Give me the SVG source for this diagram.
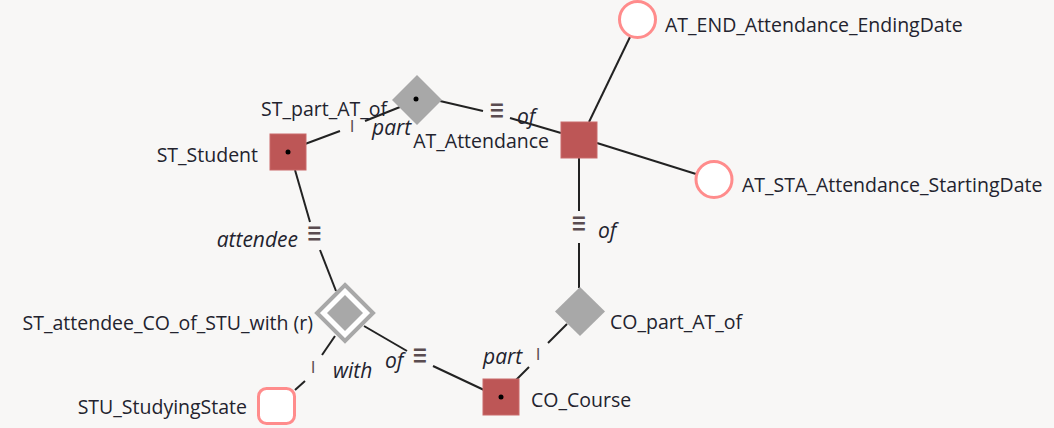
<svg xmlns="http://www.w3.org/2000/svg" width="1054" height="428" viewBox="0 0 1054 428">
<style>
.t{font-family:"Open Sans","Noto Sans",sans-serif;font-size:19.5px;fill:#23232e}
.i{font-family:"Open Sans","Noto Sans",sans-serif;font-size:21px;font-style:italic;fill:#23232e}
.m{font-family:"Open Sans","Noto Sans",sans-serif;font-size:17px;fill:#5a4c50}
.q{font-family:"DejaVu Sans",sans-serif;font-size:19px;fill:#5a4c50}
.e{fill:#bd5656;stroke:#c96a6a;stroke-width:1}
.d{fill:#a8a8a8}
.v{fill:#fff;stroke:#ff8c8c;stroke-width:3}
.c line{stroke:#222;stroke-width:2}
</style>
<rect width="1054" height="428" fill="#f8f7f6"/>
<g class="c" id="connectors">
<line x1="305" y1="144" x2="340" y2="131"/>
<line x1="365" y1="121" x2="400" y2="107"/>
<line x1="440" y1="101" x2="483" y2="111"/>
<line x1="510" y1="118" x2="561" y2="133"/>
<line x1="589" y1="122" x2="630" y2="37"/>
<line x1="597" y1="143" x2="696" y2="174"/>
<line x1="579" y1="158" x2="579" y2="211"/>
<line x1="579" y1="243" x2="579" y2="288"/>
<line x1="567" y1="324" x2="548" y2="343"/>
<line x1="529" y1="367" x2="516" y2="380"/>
<line x1="295" y1="170" x2="310" y2="222"/>
<line x1="320" y1="250" x2="336" y2="291"/>
<line x1="364" y1="326" x2="407" y2="351"/>
<line x1="433" y1="366" x2="484" y2="390"/>
<line x1="335" y1="336" x2="322" y2="355"/>
<line x1="305" y1="381" x2="295" y2="390"/>
<text class="m" x="352" y="132" text-anchor="middle">I</text>
<text class="m" x="538" y="360" text-anchor="middle">I</text>
<text class="m" x="313" y="373" text-anchor="middle">I</text>
<text class="q" text-anchor="middle" transform="translate(497,114) scale(1,1.6)" y="3.5">≡</text>
<text class="q" text-anchor="middle" transform="translate(579,227) scale(1,1.6)" y="3.5">≡</text>
<text class="q" text-anchor="middle" transform="translate(314.5,237.5) scale(1,1.6)" y="3.5">≡</text>
<text class="q" text-anchor="middle" transform="translate(420,359) scale(1,1.6)" y="3.5">≡</text>
<text class="i" x="372" y="135">part</text>
<text class="i" x="517" y="124">of</text>
<text class="i" x="598" y="238">of</text>
<text class="i" x="483" y="364">part</text>
<text class="i" x="298" y="247" text-anchor="end">attendee</text>
<text class="i" x="385" y="368">of</text>
<text class="i" x="333" y="378">with</text>
</g>
<g id="ST_Student">
<rect class="e" x="270" y="134" width="36" height="36"/>
<circle cx="288" cy="152" r="2.5" fill="#000"/>
<text class="t" x="258" y="162" text-anchor="end">ST_Student</text>
</g>
<g id="ST_part_AT_of">
<polygon class="d" points="417,75 442,100 417,125 392,100"/>
<circle cx="416" cy="99" r="2.5" fill="#000"/>
<text class="t" x="261" y="116">ST_part_AT_of</text>
</g>
<g id="AT_Attendance">
<rect class="e" x="561" y="122" width="36" height="36"/>
<text class="t" x="549" y="148" text-anchor="end">AT_Attendance</text>
</g>
<g id="AT_END_Attendance_EndingDate">
<circle class="v" cx="637.5" cy="19.5" r="18"/>
<text class="t" x="665" y="32">AT_END_Attendance_EndingDate</text>
</g>
<g id="AT_STA_Attendance_StartingDate">
<circle class="v" cx="714" cy="179.5" r="18"/>
<text class="t" x="742" y="192">AT_STA_Attendance_StartingDate</text>
</g>
<g id="CO_part_AT_of">
<polygon class="d" points="580,287 605,311.5 580,336 555,311.5"/>
<text class="t" x="610" y="329">CO_part_AT_of</text>
</g>
<g id="CO_Course">
<rect class="e" x="483" y="379" width="36" height="36"/>
<circle cx="501" cy="397" r="2.5" fill="#000"/>
<text class="t" x="531" y="407">CO_Course</text>
</g>
<g id="ST_attendee_CO_of_STU_with">
<polygon points="345,285 373,313 345,341 317,313" fill="#fff" stroke="#a8a8a8" stroke-width="4"/>
<polygon class="d" points="345,295 363,313 345,331 327,313"/>
<text class="t" x="313" y="330" text-anchor="end">ST_attendee_CO_of_STU_with (r)</text>
</g>
<g id="STU_StudyingState">
<rect x="258.5" y="388.5" width="36" height="35" rx="8" fill="#fff" stroke="#ff8c8c" stroke-width="3"/>
<text class="t" x="247" y="414" text-anchor="end">STU_StudyingState</text>
</g>
</svg>
